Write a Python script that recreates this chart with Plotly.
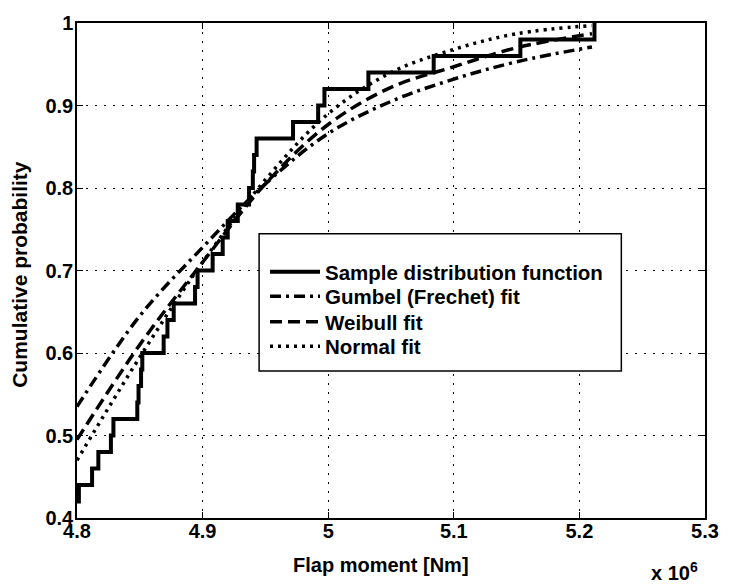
import plotly.graph_objects as go

# ---- data (x in units of 10^6 Nm) ----
sample_x = [4.79, 4.8015, 4.812, 4.817, 4.827, 4.829, 4.848, 4.849, 4.851, 4.852,
            4.869, 4.872, 4.877, 4.894, 4.896, 4.908, 4.916, 4.920, 4.928, 4.937,
            4.940, 4.941, 4.943, 4.972, 4.992, 4.997, 5.032, 5.084, 5.153, 5.212]
sample_p = [0.42, 0.44, 0.46, 0.48, 0.50, 0.52, 0.54, 0.56, 0.58, 0.60,
            0.62, 0.64, 0.66, 0.68, 0.70, 0.72, 0.74, 0.76, 0.78, 0.80,
            0.82, 0.84, 0.86, 0.88, 0.90, 0.92, 0.94, 0.96, 0.98, 1.00]

fit_x = [4.80, 4.85, 4.90, 4.95, 5.00, 5.05, 5.10, 5.15, 5.21]
gumbel_p = [0.535, 0.645, 0.728, 0.805, 0.866, 0.905, 0.932, 0.953, 0.971]
weibull_p = [0.495, 0.610, 0.710, 0.805, 0.877, 0.922, 0.947, 0.970, 0.987]
normal_p = [0.470, 0.595, 0.710, 0.810, 0.890, 0.940, 0.968, 0.987, 0.997]

series_names = ["Sample distribution function", "Gumbel (Frechet) fit",
                "Weibull fit", "Normal fit"]

x_ticks = [4.8, 4.9, 5.0, 5.1, 5.2, 5.3]
x_tick_text = ["4.8", "4.9", "5", "5.1", "5.2", "5.3"]
y_ticks = [0.4, 0.5, 0.6, 0.7, 0.8, 0.9, 1.0]
y_tick_text = ["0.4", "0.5", "0.6", "0.7", "0.8", "0.9", "1"]

FONT = "Liberation Sans, Arial, Helvetica, sans-serif"

fig = go.Figure()
fig.add_trace(go.Scatter(x=sample_x, y=sample_p, mode="lines", line_shape="hv",
                         name=series_names[0], legend="legend",
                         line=dict(color="black", width=4)))
fig.add_trace(go.Scatter(x=fit_x, y=gumbel_p, mode="lines", line_shape="spline",
                         name=series_names[1], legend="legend2",
                         line=dict(color="black", width=3.5, dash="11px,5px,3px,5px")))
fig.add_trace(go.Scatter(x=fit_x, y=weibull_p, mode="lines", line_shape="spline",
                         name=series_names[2], legend="legend3",
                         line=dict(color="black", width=3.5, dash="12px,6px")))
fig.add_trace(go.Scatter(x=fit_x, y=normal_p, mode="lines", line_shape="spline",
                         name=series_names[3], legend="legend4",
                         line=dict(color="black", width=3.5, dash="3px,5px")))

W, H = 731, 588
L, R, T, B = 77, 16, 13, 70
pw, ph = W - L - R, H - T - B

def px(xp):
    return (xp - L) / pw

def py(yp):
    return (H - B - yp) / ph

axis_common = dict(
    showline=True, linecolor="black", linewidth=1.5, mirror="allticks",
    ticks="inside", ticklen=6, tickcolor="black", tickwidth=1,
    showgrid=True, gridcolor="black", gridwidth=1, griddash="2px,7px",
    zeroline=False,
    tickfont=dict(family=FONT, size=20, color="black", weight="bold"),
)

legend_font = dict(family=FONT, size=20.5, color="black", weight="bold")

def leg(yc):
    return dict(x=px(268), y=py(yc), xanchor="left", yanchor="middle",
                bgcolor="rgba(0,0,0,0)", borderwidth=0, font=legend_font,
                itemwidth=50)

fig.update_layout(
    width=W, height=H,
    margin=dict(l=L, r=R, t=T, b=B),
    paper_bgcolor="white", plot_bgcolor="white",
    showlegend=True,
    legend=leg(267), legend2=leg(292), legend3=leg(318), legend4=leg(343),
    xaxis=dict(range=[4.8, 5.3], tickvals=x_ticks, ticktext=x_tick_text,
               ticklabelstandoff=-6, **axis_common),
    yaxis=dict(range=[0.4, 1.0], tickvals=y_ticks, ticktext=y_tick_text,
               ticklabelstandoff=-2, **axis_common),
    shapes=[dict(type="rect", xref="paper", yref="paper",
                 x0=px(262), x1=px(630), y0=py(368), y1=py(228),
                 line=dict(color="black", width=1.5), fillcolor="white", layer="above")],
    annotations=[
        dict(text="Flap moment [Nm]", xref="paper", yref="paper", x=px(386), y=py(566),
             xanchor="center", yanchor="middle", showarrow=False,
             font=dict(family=FONT, size=20, color="black", weight="bold")),
        dict(text="Cumulative probability", xref="paper", yref="paper", x=px(19), y=py(269),
             xanchor="center", yanchor="middle", showarrow=False, textangle=-90,
             font=dict(family=FONT, size=21, color="black", weight="bold")),
        dict(text="x 10<sup>6</sup>", xref="paper", yref="paper", x=px(684), y=py(573),
             xanchor="center", yanchor="middle", showarrow=False,
             font=dict(family=FONT, size=20, color="black", weight="bold")),
    ],
)

fig.write_html("out.html")
